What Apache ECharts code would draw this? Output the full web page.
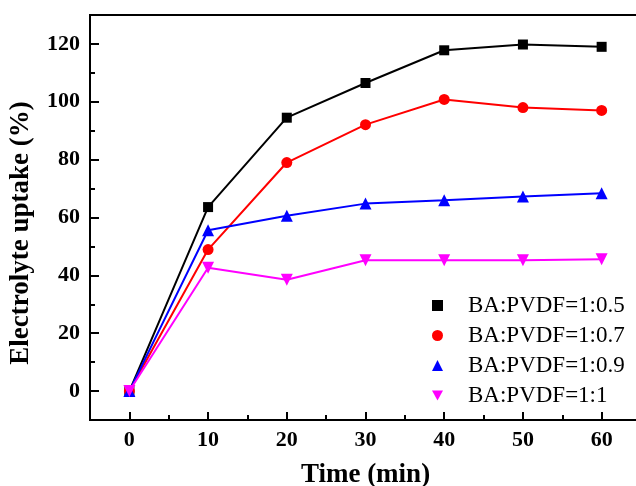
<!DOCTYPE html>
<html>
<head>
<meta charset="utf-8">
<script src="https://cdn.jsdelivr.net/npm/echarts@6/dist/echarts.min.js"></script>
<style>
  html, body { margin: 0; padding: 0; background: #fff; }
  #chart { width: 636px; height: 486px; }
</style>
</head>
<body>
<div id="chart"></div>
<script>
// data
var times = [0, 10, 20, 30, 40, 50, 60];
var ba05 = [0, 63.6, 94.5, 106.5, 117.8, 119.8, 119.0];
var ba07 = [0, 48.9, 79.0, 92.1, 100.8, 98.0, 97.0];
var ba09 = [0, 55.6, 60.6, 64.8, 66.0, 67.3, 68.4];
var ba10 = [0, 42.6, 38.5, 45.2, 45.2, 45.2, 45.6];

var xMajor = [0, 10, 20, 30, 40, 50, 60];
var xMinor = [5, 15, 25, 35, 45, 55];
var yMajor = [0, 20, 40, 60, 80, 100, 120];
var yMinor = [10, 30, 50, 70, 90, 110];

var serif = 'Liberation Serif, Times New Roman, serif';
var downTri = 'path://M0,0 L10,0 L5,9 Z';

function pairs(ys) {
  return times.map(function (t, i) { return [t, ys[i]]; });
}

var myChart = echarts.init(document.getElementById('chart'));

function mkSeries(name, ys, color, symbol, size) {
  return {
    name: name,
    type: 'line',
    data: pairs(ys),
    symbol: symbol,
    symbolSize: size,
    lineStyle: { color: color, width: 2 },
    itemStyle: { color: color },
    animation: false
  };
}

// ticks point into the plot
function ticks(vals, len) {
  return { show: true, inside: false, length: -len, lineStyle: { width: 2, color: '#000' }, customValues: vals };
}

var option = {
  backgroundColor: '#fff',
  grid: {
    left: 90, top: 15, right: -5, bottom: 66,
    outerBoundsMode: 'none',
    containLabel: false,
    show: true, borderColor: '#000', borderWidth: 2
  },
  legend: {
    orient: 'vertical',
    left: 427,
    top: 289,
    itemWidth: 11,
    itemHeight: 11,
    itemGap: 7,
    textStyle: {
      fontFamily: serif, fontSize: 23, color: '#000',
      padding: [0, 0, 0, 20]
    },
    data: [
      { name: 'BA:PVDF=1:0.5', icon: 'rect' },
      { name: 'BA:PVDF=1:0.7', icon: 'circle' },
      { name: 'BA:PVDF=1:0.9', icon: 'triangle' },
      { name: 'BA:PVDF=1:1', icon: downTri }
    ]
  },
  xAxis: [{
    type: 'value', min: -5, max: 65,
    axisLine: { onZero: false, lineStyle: { color: '#000', width: 2 } },
    axisTick: ticks(xMajor, 8),
    axisLabel: {
      customValues: xMajor, margin: 9,
      fontFamily: serif, fontWeight: 'bold', fontSize: 22, color: '#000'
    },
    splitLine: { show: false },
    name: 'Time (min)',
    nameLocation: 'middle',
    nameGap: 42,
    nameTextStyle: { fontFamily: serif, fontWeight: 'bold', fontSize: 27, color: '#000' }
  }, {
    type: 'value', min: -5, max: 65, position: 'bottom',
    axisLine: { show: false, onZero: false },
    axisTick: ticks(xMinor, 5),
    axisLabel: { show: false },
    splitLine: { show: false }
  }],
  yAxis: [{
    type: 'value', min: -10, max: 130,
    axisLine: { show: true, onZero: false, lineStyle: { color: '#000', width: 2 } },
    axisTick: ticks(yMajor, 9),
    axisLabel: {
      customValues: yMajor, margin: 10,
      fontFamily: serif, fontWeight: 'bold', fontSize: 22, color: '#000'
    },
    splitLine: { show: false }
  }, {
    type: 'value', min: -10, max: 130, position: 'left',
    axisLine: { show: false, onZero: false },
    axisTick: ticks(yMinor, 5),
    axisLabel: { show: false },
    splitLine: { show: false }
  }],
  graphic: [{
    type: 'text',
    x: 21, y: 233,
    rotation: Math.PI / 2,
    style: {
      text: 'Electrolyte uptake (%)',
      fontFamily: serif, fontWeight: 'bold', fontSize: 27, fill: '#000',
      align: 'center', verticalAlign: 'middle'
    }
  }],
  series: [
    mkSeries('BA:PVDF=1:0.5', ba05, '#000000', 'rect', 10),
    mkSeries('BA:PVDF=1:0.7', ba07, '#ff0000', 'circle', 11),
    mkSeries('BA:PVDF=1:0.9', ba09, '#0000ff', 'triangle', 12),
    mkSeries('BA:PVDF=1:1', ba10, '#ff00ff', downTri, 12)
  ]
};

myChart.setOption(option);
window.addEventListener('resize', function () {
  myChart.resize();
});
</script>
</body>
</html>
